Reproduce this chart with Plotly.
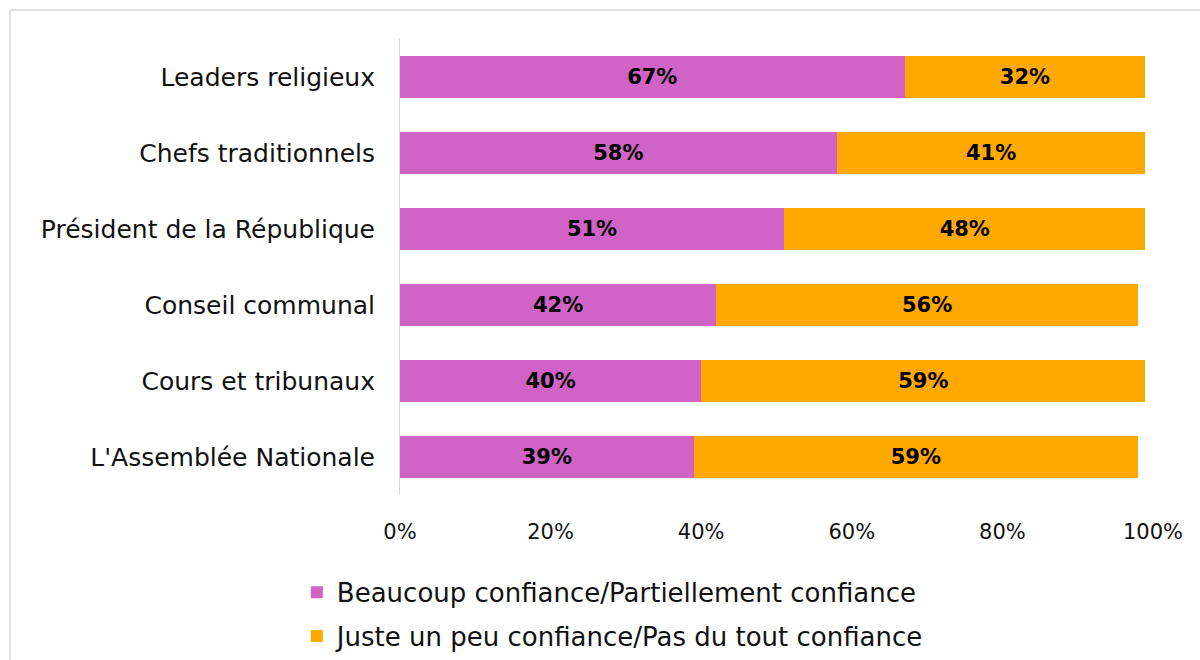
import plotly.graph_objects as go

# Confidence in institutions (share of respondents)
institutions = [
    "Leaders religieux",
    "Chefs traditionnels",
    "Président de la République",
    "Conseil communal",
    "Cours et tribunaux",
    "L'Assemblée Nationale",
]
beaucoup = [67, 58, 51, 42, 40, 39]
peu = [32, 41, 48, 56, 59, 59]
series_names = [
    "Beaucoup confiance/Partiellement confiance",
    "Juste un peu confiance/Pas du tout confiance",
]
x_ticks = [0, 20, 40, 60, 80, 100]
x_tick_labels = ["0%", "20%", "40%", "60%", "80%", "100%"]

FONT = "DejaVu Sans, sans-serif"
TEXT = "#111111"
PINK = "#D063C5"
ORANGE = "#FFA800"

fig = go.Figure()
for i, (name, vals, color) in enumerate(
        [(series_names[0], beaucoup, PINK), (series_names[1], peu, ORANGE)]):
    fig.add_trace(go.Bar(
        y=institutions,
        x=vals,
        name=name,
        legendgroup=f"g{i}",
        orientation="h",
        marker=dict(color=color, line=dict(width=0)),
        text=[f"{v}%" for v in vals],
        textposition="inside",
        insidetextanchor="middle",
        textfont=dict(family=FONT, size=21, color="black", weight="bold"),
        width=0.55,
    ))

fig.update_layout(
    barmode="stack",
    width=1200,
    height=660,
    margin=dict(l=400, r=47, t=39, b=165, autoexpand=False),
    paper_bgcolor="white",
    plot_bgcolor="white",
    font=dict(family=FONT, size=25, color=TEXT),
    showlegend=True,
    legend=dict(
        orientation="v",
        x=-0.137,
        xanchor="left",
        y=-0.162,
        yanchor="top",
        font=dict(size=26, color=TEXT),
        traceorder="grouped",
        tracegroupgap=7,
        itemsizing="constant",
    ),
    uniformtext=dict(mode="show", minsize=10),
    xaxis=dict(
        range=[0, 100],
        tickvals=x_ticks,
        ticktext=x_tick_labels,
        showgrid=False,
        zeroline=False,
        showline=False,
        ticks="",
        ticklabelstandoff=22,
        tickfont=dict(size=21, color=TEXT),
    ),
    yaxis=dict(
        autorange="reversed",
        showgrid=False,
        showline=True,
        linecolor="#D9D9D9",
        linewidth=1,
        ticks="",
        ticklabelstandoff=19,
        tickfont=dict(size=25, color=TEXT),
    ),
    shapes=[
        # outer chart frame
        dict(
            type="rect",
            xref="paper", yref="paper",
            x0=(10 - 400) / 753, x1=2.0,
            y0=-2.0, y1=1 + (39 - 10) / 456,
            line=dict(color="#D9D9D9", width=1.5),
            fillcolor="rgba(0,0,0,0)",
            layer="below",
        )
    ],
)

fig.write_html("out.html")
